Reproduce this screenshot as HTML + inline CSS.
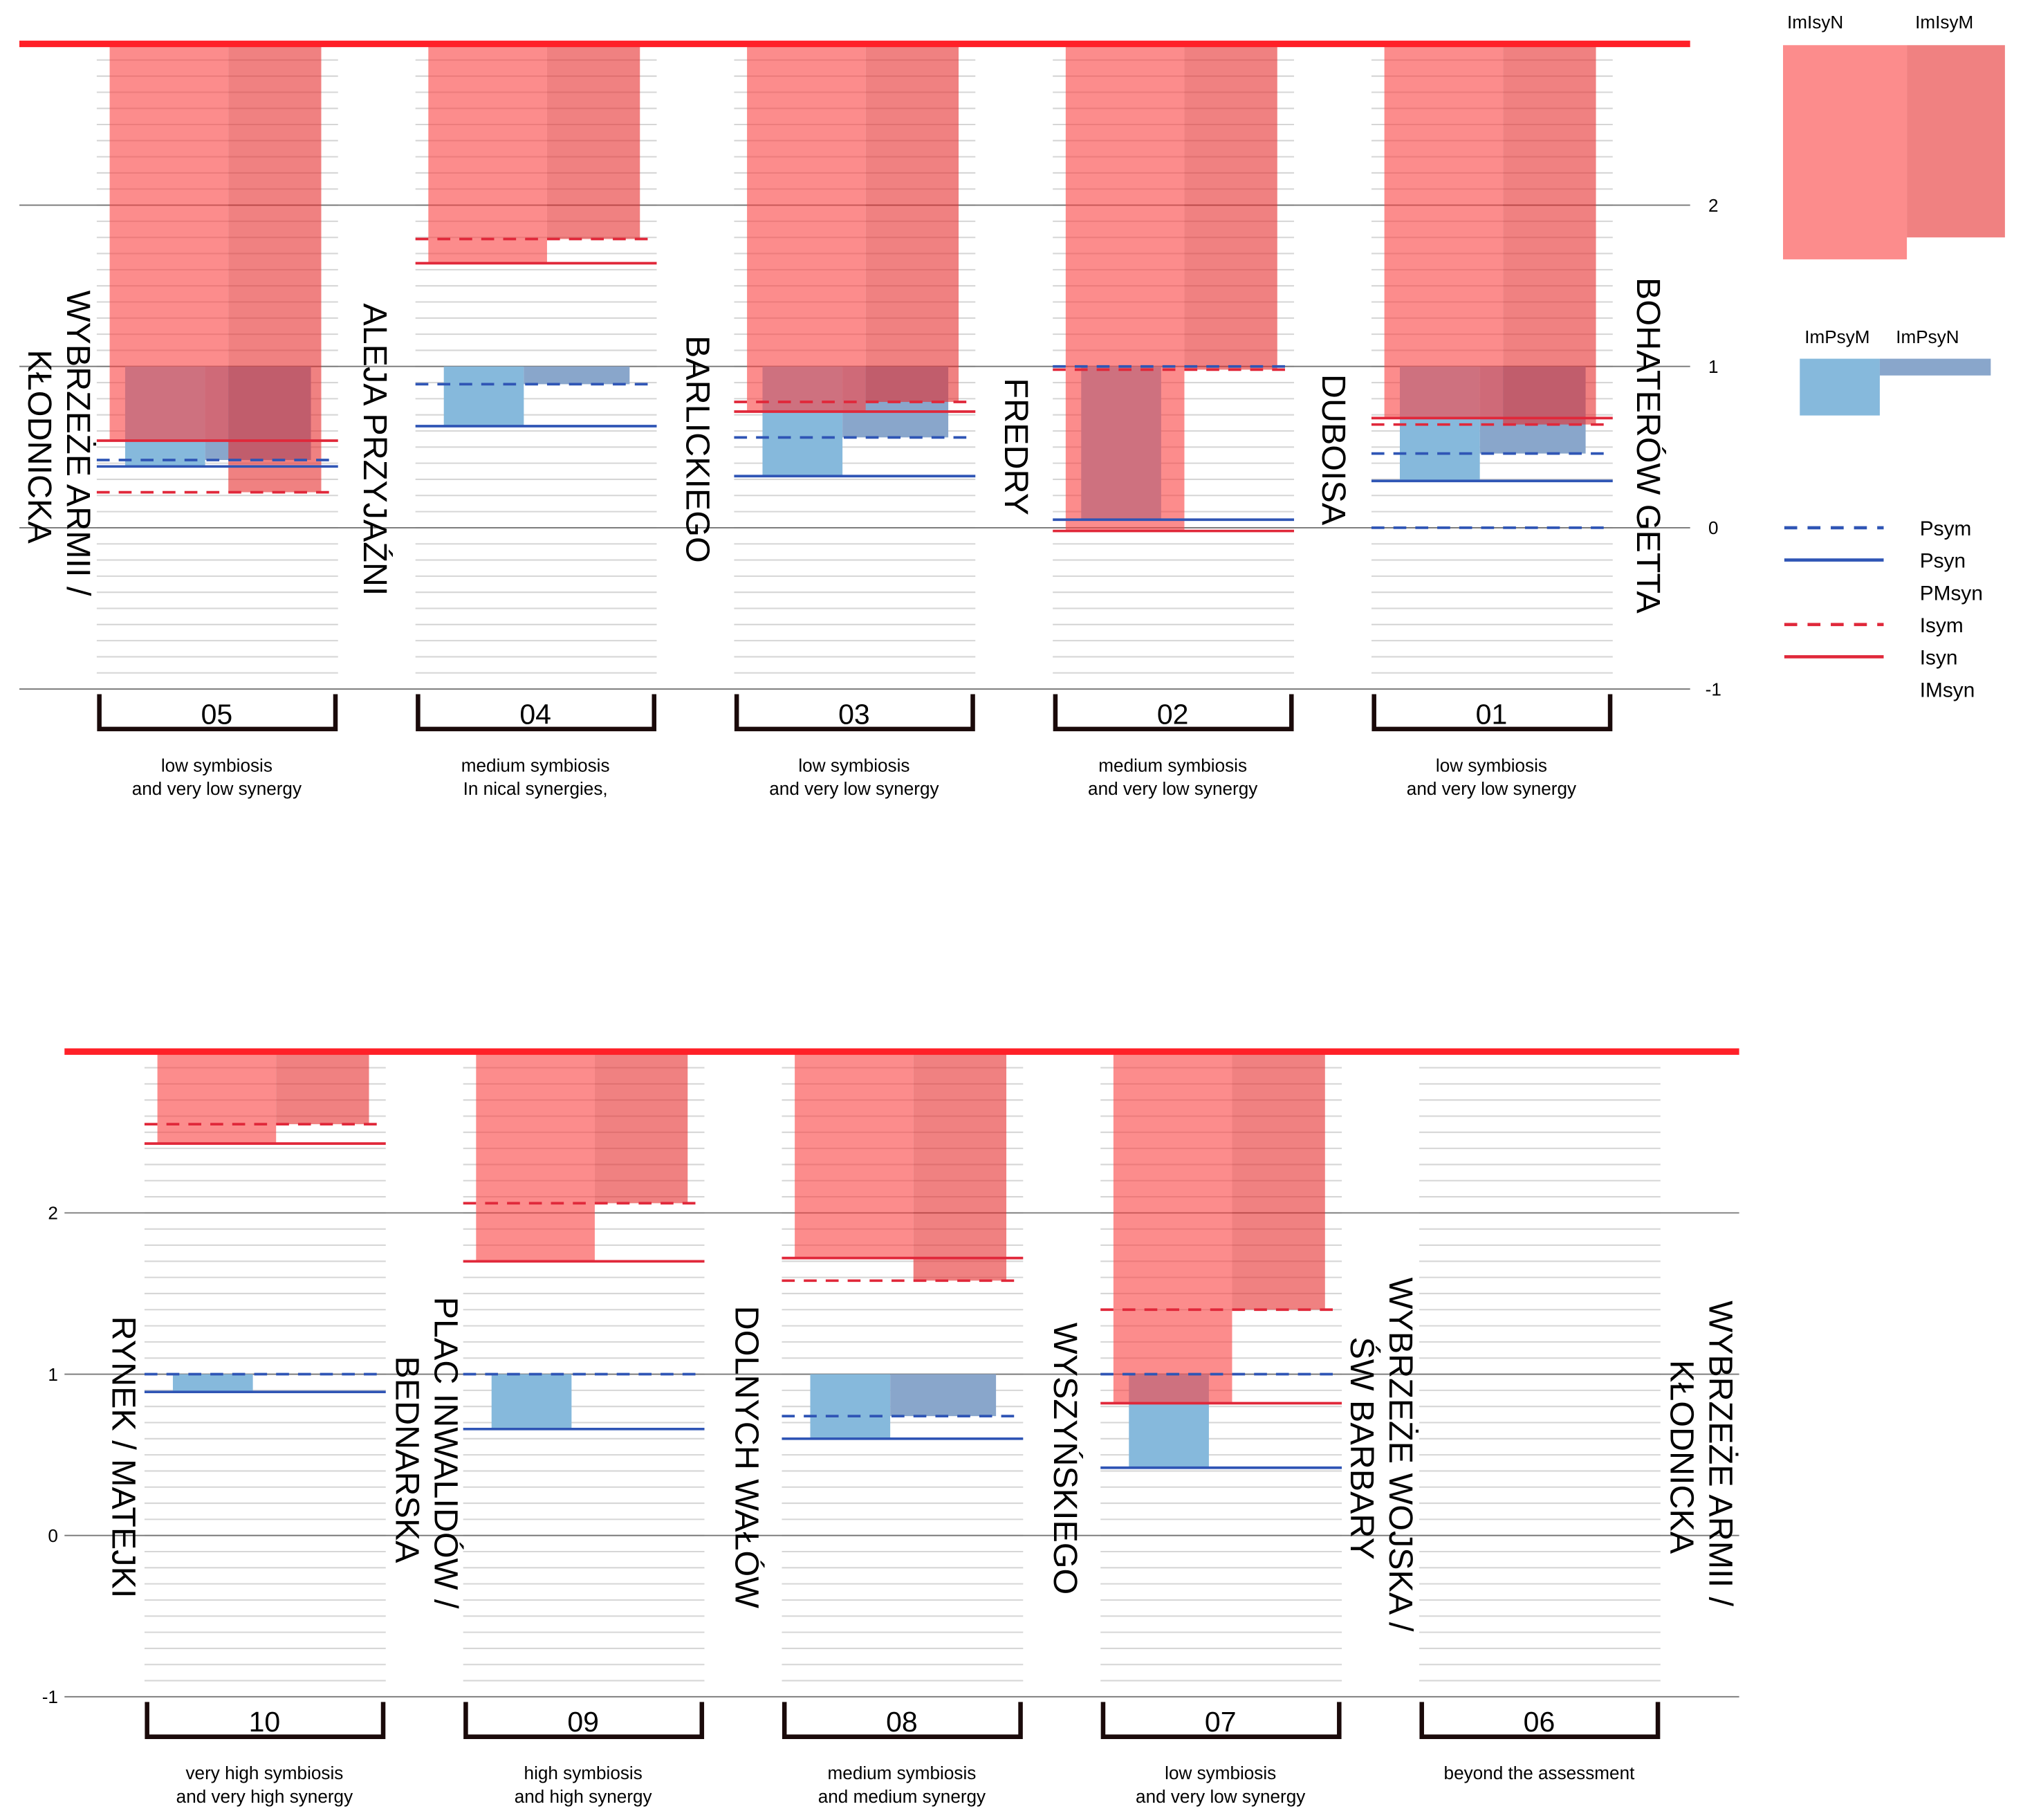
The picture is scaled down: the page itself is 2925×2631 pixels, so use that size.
<!DOCTYPE html>
<html>
<head>
<meta charset="utf-8">
<style>
  html,body{margin:0;padding:0;background:#fff;}
  svg{display:block;}
  text{font-family:"Liberation Sans","DejaVu Sans",sans-serif;}
</style>
</head>
<body>
<svg id="chart" xmlns="http://www.w3.org/2000/svg" width="2925" height="2631" viewBox="0 0 1568 1410.5" preserveAspectRatio="none">
  <g id="legend">
    <text x="1407" y="22" font-size="14" text-anchor="middle">ImIsyN</text>
    <text x="1507" y="22" font-size="14" text-anchor="middle">ImIsyM</text>
    <rect x="1382" y="35" width="96" height="166" fill="rgba(250,70,70,0.62)"/>
    <rect x="1478" y="35" width="76" height="149" fill="rgba(230,45,45,0.6)"/>
    <text x="1424" y="266" font-size="14" text-anchor="middle">ImPsyM</text>
    <text x="1494" y="266" font-size="14" text-anchor="middle">ImPsyN</text>
    <rect x="1395" y="278" width="62" height="44" fill="#86b9dc"/>
    <rect x="1457" y="278" width="86" height="13" fill="#89a6cb"/>
    <line x1="1383" y1="409" x2="1460" y2="409" stroke="#2f55b5" stroke-width="2.5" stroke-dasharray="10,8"/>
    <text x="1488" y="415" font-size="16">Psym</text>
    <line x1="1383" y1="434" x2="1460" y2="434" stroke="#2f55b5" stroke-width="2.5"/>
    <text x="1488" y="440" font-size="16">Psyn</text>
    <text x="1488" y="465" font-size="16">PMsyn</text>
    <line x1="1383" y1="484" x2="1460" y2="484" stroke="#e0283a" stroke-width="2.5" stroke-dasharray="10,8"/>
    <text x="1488" y="490" font-size="16">Isym</text>
    <line x1="1383" y1="509" x2="1460" y2="509" stroke="#e0283a" stroke-width="2.5"/>
    <text x="1488" y="515" font-size="16">Isyn</text>
    <text x="1488" y="540" font-size="16">IMsyn</text>
  </g>
</svg>
<script>
// ---------- data: top panel ----------
var catsTop = ['05','04','03','02','01'];
var isynTop = [0.54, 1.64, 0.72, -0.02, 0.68];
var isymTop = [0.22, 1.79, 0.78, 0.98, 0.64];
var psynTop = [0.38, 0.63, 0.32, 0.05, 0.29];
var psymTop = [0.42, 0.89, 0.56, 1.0, 0.46];
var pmsynTop = [null, null, null, null, 0.0];
var descTop = [['low symbiosis','and very low synergy'],['medium symbiosis','In nical synergies,'],['low symbiosis','and very low synergy'],['medium symbiosis','and very low synergy'],['low symbiosis','and very low synergy']];
// ---------- data: bottom panel ----------
var catsBot = ['10','09','08','07','06'];
var isynBot = [2.43, 1.70, 1.72, 0.82, null];
var isymBot = [2.55, 2.06, 1.58, 1.40, null];
var psynBot = [0.89, 0.66, 0.60, 0.42, null];
var psymBot = [1.0, 1.0, 0.74, 1.0, null];
var pmsynBot = [null, null, null, null, null];
var descBot = [['very high symbiosis','and very high synergy'],['high symbiosis','and high synergy'],['medium symbiosis','and medium synergy'],['low symbiosis','and very low synergy'],['beyond the assessment']];
var tickVals = [2, 1, 0, -1];
var tickLabels = ['2', '1', '0', '-1'];
var streetsTop = [['WYBRZEŻE ARMII  /','KŁODNICKA'],['ALEJA PRZYJAŹNI'],['BARLICKIEGO'],['FREDRY'],['DUBOISA'],['BOHATERÓW GETTA']];
var streetsBot = [['RYNEK / MATEJKI'],['PLAC INWALIDÓW  /','BEDNARSKA'],['DOLNYCH WAŁÓW'],['WYSZYŃSKIEGO'],['WYBRZEŻE WOJSKA  /','ŚW BARBARY'],['WYBRZEŻE ARMII  /','KŁODNICKA']];

var NS = 'http://www.w3.org/2000/svg';
var svg = document.getElementById('chart');
function mk(tag, attrs, parent){
  var e = document.createElementNS(NS, tag);
  for (var k in attrs) e.setAttribute(k, attrs[k]);
  (parent||svg).appendChild(e);
  return e;
}

function drawPanel(cfg){
  var g = mk('g', {});
  
  
  function y(v){ return cfg.y0 - 125 * v; }
  function gx(i){ return cfg.gx0 + 247 * i; }
  for (var i = 0; i < cfg.cats.length; i++){
    var L = gx(i);
    for (var k = -9; k <= 29; k++){
      var ml = mk('line', {x1:L-2, x2:L+185, y1:y(k/10), y2:y(k/10), stroke:'#d6d6d6', 'stroke-width':1.1}, g);
      
      
    }
  }
  for (var t = 0; t < tickVals.length; t++){
    var gl = mk('line', {x1:cfg.ax1, x2:cfg.ax2, y1:y(tickVals[t]), y2:y(tickVals[t]), stroke:'#777', 'stroke-width':1}, g);
    
    
    var tl = mk('text', {x:cfg.tickX, y:y(tickVals[t]) + 5, 'font-size':14, 'text-anchor':cfg.tickAnchor}, g);
    tl.textContent = tickLabels[t];
    
    
  }
  for (var i = 0; i < cfg.cats.length; i++){
    var L = gx(i);
    var gg = mk('g', {}, g);
    
    
    if (cfg.psyn[i] !== null){
      var b1 = mk('rect', {x:L+20, width:62, y:y(1), height:Math.max(0, y(cfg.psyn[i]) - y(1)), fill:'#86b9dc'}, gg);
      
      
      var b2 = mk('rect', {x:L+82, width:82, y:y(1), height:Math.max(0, y(cfg.psym[i]) - y(1)), fill:'#89a6cb'}, gg);
      
      
    }
    if (cfg.isyn[i] !== null){
      var r1 = mk('rect', {x:L+8, width:92, y:y(3), height:y(cfg.isyn[i]) - y(3), fill:'rgba(250,70,70,0.62)'}, gg);
      
      
      var r2 = mk('rect', {x:L+100, width:72, y:y(3), height:y(cfg.isym[i]) - y(3), fill:'rgba(230,45,45,0.6)'}, gg);
      
      
      var lines = [[cfg.isyn[i],'#e0283a',null,'line-isyn'],[cfg.isym[i],'#e0283a','10,7','line-isym'],[cfg.psyn[i],'#2f55b5',null,'line-psyn'],[cfg.psym[i],'#2f55b5','10,7','line-psym']];
      for (var j = 0; j < lines.length; j++){
        var a = {x1:L-2, x2:L+185, y1:y(lines[j][0]), y2:y(lines[j][0]), stroke:lines[j][1], 'stroke-width':2};
        if (lines[j][2]) a['stroke-dasharray'] = lines[j][2];
        var ln = mk('line', a, gg);
        
        
      }
    }
    if (cfg.pmsyn[i] !== null){
      var pm = mk('line', {x1:L-2, x2:L+185, y1:y(cfg.pmsyn[i]), y2:y(cfg.pmsyn[i]), stroke:'#2f55b5', 'stroke-width':2, 'stroke-dasharray':'10,7'}, gg);
      
      
    }
    var by = y(-1);
    var br = mk('path', {d:'M'+L+' '+(by+4)+' V'+(by+31)+' H'+(L+183)+' V'+(by+4), fill:'none', stroke:'#1a0a0a', 'stroke-width':3.5}, gg);
    
    
    var ct = mk('text', {x:L+91, y:by+27, 'font-size':22, 'text-anchor':'middle'}, gg);
    ct.textContent = cfg.cats[i];
    
    
    var d = cfg.desc[i];
    for (var j = 0; j < d.length; j++){
      var dt = mk('text', {x:L+91, y:by+64 + j*18, 'font-size':14, 'text-anchor':'middle'}, gg);
      dt.textContent = d[j];
      
      
    }
  }
  var tr = mk('line', {x1:cfg.ax1, x2:cfg.ax2, y1:y(3), y2:y(3), stroke:'#ff2028', 'stroke-width':5}, g);
  
  
  for (var s = 0; s < cfg.streets.length; s++){
    var st = cfg.streets[s];
    var sx = cfg.streetX[s], sy = cfg.streetY[s];
    for (var j = 0; j < st.length; j++){
      var tx = mk('text', {x:0, y:0, 'font-size':26, transform:'translate('+(sx - 30*j)+','+(sy + (j? 46:0))+') rotate(90)'}, g);
      tx.textContent = st[j];
      
      
    }
  }
}

drawPanel({name:'top-panel', y0:409, gx0:77, ax1:15, ax2:1310, tickX:1328, tickAnchor:'middle',
  cats:catsTop, isyn:isynTop, isym:isymTop, psyn:psynTop, psym:psymTop, pmsyn:pmsynTop, desc:descTop,
  streets:streetsTop, streetX:[52,282,532,779,1025,1269], streetY:[225,235,260,293,290,215]});
drawPanel({name:'bottom-panel', y0:1190, gx0:114, ax1:50, ax2:1348, tickX:45, tickAnchor:'end',
  cats:catsBot, isyn:isynBot, isym:isymBot, psyn:psynBot, psym:psymBot, pmsyn:pmsynBot, desc:descBot,
  streets:streetsBot, streetX:[87,337,570,817,1077,1325], streetY:[1020,1005,1012,1025,990,1008]});
</script>
</body>
</html>
